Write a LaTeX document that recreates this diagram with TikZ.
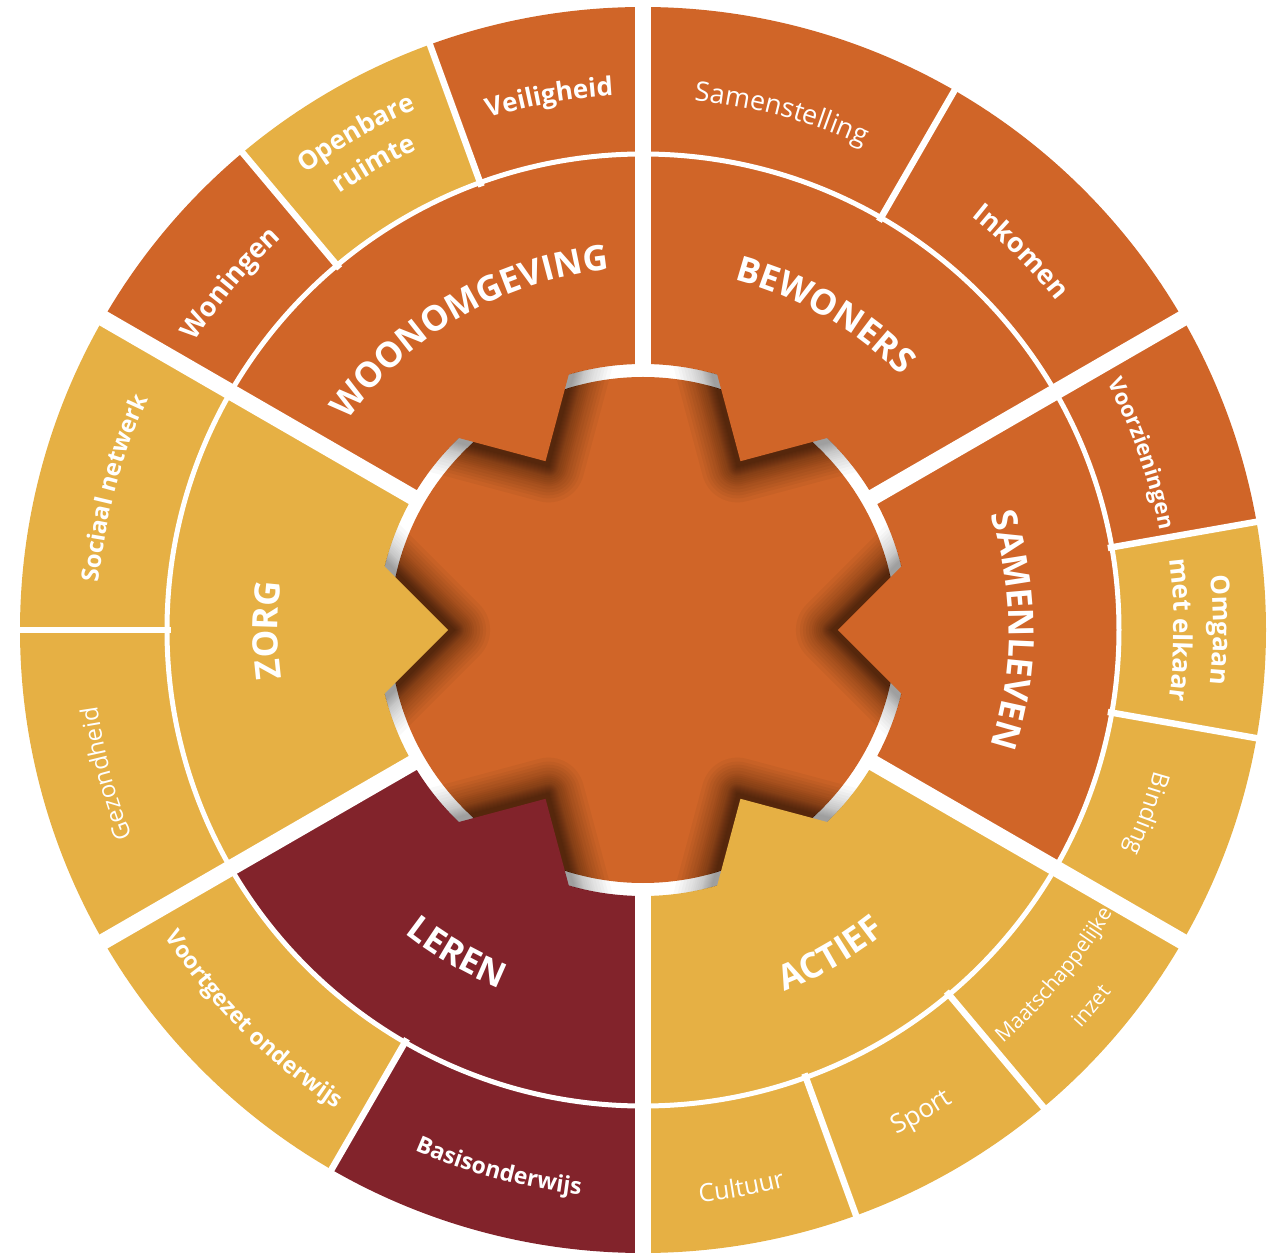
\documentclass[tikz,border=0pt]{standalone}
\usepackage{fontspec}
\setmainfont{Open Sans}
\usetikzlibrary{decorations.text}
\definecolor{dor}{HTML}{D06528}
\definecolor{lyl}{HTML}{E6B044}
\definecolor{drd}{HTML}{82232B}
% annular segment: start, end, r in, r out, colour
\newcommand\annseg[5]{\fill[#5] (#1:#3) arc[start angle=#1,end angle=#2,radius=#3] -- (#2:#4) arc[start angle=#2,end angle=#1,radius=#4] -- cycle;}
% text along a clockwise arc (tops outward): centre angle, baseline radius, text
\newcommand\cwlabel[3]{\path[decorate,decoration={text along path,text align=center,text color=white,text={#3}}] ({#1+40}:#2) arc[start angle={#1+40},end angle={#1-40},radius=#2];}
% text along a counter-clockwise arc (tops inward)
\newcommand\ccwlabel[3]{\path[decorate,decoration={text along path,text align=center,text color=white,text={#3}}] ({#1-40}:#2) arc[start angle={#1-40},end angle={#1+40},radius=#2];}
% arrow square: centre at radius 284, side 126, one corner pointing to the centre
\newcommand\sqfill[2]{\begin{scope}[shift={(#1:284)},rotate=#1+45]\fill[#2] (-63,-63) rectangle (63,63);\end{scope}}
% soft shadow of an arrow square (stacked offsets), shifted towards the centre: angle, layer opacity
\newcommand\sqshadow[2]{\begin{scope}[shift={(#1:278)},rotate=#1+45]
  \foreach \d in {1,2,3,4,5,6,7,8,9,10,12,14,16,18,20,23,26,29,32,36} {\fill[black,opacity=#2,rounded corners=\d pt] (-63-\d,-63-\d) rectangle (63+\d,63+\d);}
\end{scope}}
\newcommand\bigfnt{\bfseries\fontsize{35}{40}\selectfont}
\newcommand\obfnt[1]{\bfseries\fontsize{#1}{#1}\selectfont}
\newcommand\orfnt[1]{\fontsize{#1}{#1}\selectfont}
\begin{document}
\begin{tikzpicture}[x=1pt,y=1pt]
\useasboundingbox (-643,-623) rectangle (635,630);
% outer ring
\annseg{30}{60}{470}{623}{dor}
\annseg{60}{90}{470}{623}{dor}
\annseg{90}{110}{470}{623}{dor}
\annseg{110}{130}{470}{623}{lyl}
\annseg{130}{150}{470}{623}{dor}
\annseg{150}{180}{470}{623}{lyl}
\annseg{180}{210}{470}{623}{lyl}
\annseg{210}{240}{470}{623}{lyl}
\annseg{240}{270}{470}{623}{drd}
\annseg{270}{290}{470}{623}{lyl}
\annseg{290}{310}{470}{623}{lyl}
\annseg{310}{330}{470}{623}{lyl}
\annseg{330}{350}{470}{623}{lyl}
\annseg{350}{370}{470}{623}{lyl}
\annseg{370}{390}{470}{623}{dor}
% inner sectors
\annseg{30}{90}{266}{476}{dor}
\annseg{90}{150}{266}{476}{dor}
\annseg{150}{210}{266}{476}{lyl}
\annseg{210}{270}{266}{476}{drd}
\annseg{270}{330}{266}{476}{lyl}
\annseg{330}{390}{266}{476}{dor}
% white separations
\draw[white,line width=5] (0,0) circle[radius=476];
\foreach \a in {10,60,110,130,180,240,290,310,350}
  \draw[white,line width=6.5] (\a:472) -- (\a:645);
\foreach \a in {30,90,150,210,270,330}
  \draw[white,line width=16] (\a:261) -- (\a:645);
% central disk
\fill[dor] (0,0) circle[radius=253];
% arrow shadows on the central disk
\begin{scope}
  \clip (0,0) circle[radius=253];
  \foreach \a in {0,60,...,300} {\sqshadow{\a}{0.04}}
\end{scope}
% lighter arrow shadows on the white ring
\begin{scope}[even odd rule]
  \clip (0,0) circle[radius=266] (0,0) circle[radius=253];
  \foreach \a in {0,60,...,300} {\sqshadow{\a}{0.022}}
\end{scope}
% arrows
\sqfill{60}{dor}
\sqfill{120}{dor}
\sqfill{180}{lyl}
\sqfill{240}{drd}
\sqfill{300}{lyl}
\sqfill{0}{dor}
% main labels
\cwlabel{120}{362}{|\bigfnt|WOONOMGEVING}
\cwlabel{60}{362}{|\bigfnt|BEWONERS}
\cwlabel{0}{366}{|\bigfnt|SAMENLEVEN}
\cwlabel{180}{365}{|\bigfnt|ZORG}
\ccwlabel{-60}{388}{|\bigfnt|ACTIEF}
\ccwlabel{-120}{386}{|\bigfnt|LEREN}
% outer labels
\cwlabel{100}{535}{|\obfnt{26}|Veiligheid}
\cwlabel{120}{568}{|\obfnt{26}|Openbare}
\cwlabel{120}{531}{|\obfnt{26}|ruimte}
\cwlabel{140}{533}{|\obfnt{27}|Woningen}
\cwlabel{75}{532}{|\orfnt{27}|Samenstelling}
\cwlabel{45}{528}{|\obfnt{27}|Inkomen}
\cwlabel{19.5}{526}{|\obfnt{22}|Voorzieningen}
\cwlabel{0}{570}{|\obfnt{26}|Omgaan}
\cwlabel{0}{531}{|\obfnt{26}|met elkaar}
\cwlabel{-20}{530}{|\orfnt{24}|Binding}
\cwlabel{195}{551}{|\orfnt{24}|Gezondheid}
\cwlabel{165}{546}{|\obfnt{24}|Sociaal netwerk}
\ccwlabel{-40}{548}{|\orfnt{21}|Maatschappelijke}
\ccwlabel{-40}{592}{|\orfnt{21}|inzet}
\ccwlabel{-60}{565}{|\orfnt{26}|Sport}
\ccwlabel{-80}{575}{|\orfnt{25}|Cultuur}
\ccwlabel{-105}{568}{|\obfnt{23}|Basisonderwijs}
\ccwlabel{-135}{568}{|\obfnt{23}|Voortgezet onderwijs}
\end{tikzpicture}
\end{document}
